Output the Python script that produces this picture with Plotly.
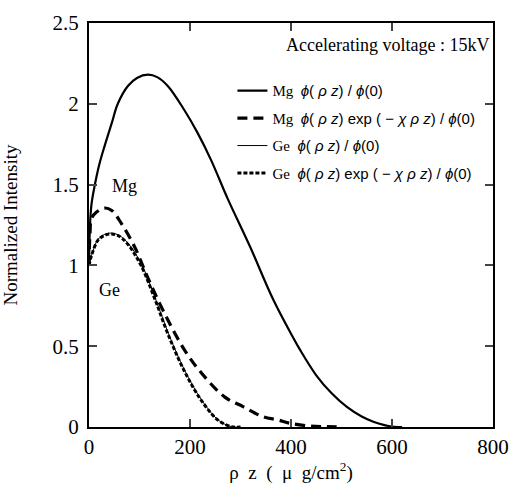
import plotly.graph_objects as go

# Mg phi(rho z)/phi(0)
mg_x = [0, 2, 5, 11, 20, 31, 45, 57, 77, 95, 117, 135, 156, 189, 215, 242, 275, 319, 365, 403, 418, 450, 480, 510, 540, 563, 585, 600, 620]
mg_y = [1.0, 1.25, 1.38, 1.49, 1.62, 1.74, 1.88, 2.0, 2.11, 2.16, 2.18, 2.165, 2.11, 1.96, 1.82, 1.65, 1.41, 1.115, 0.787, 0.56, 0.477, 0.32, 0.21, 0.126, 0.065, 0.033, 0.012, 0.003, 0.0]

# Mg phi(rho z) exp(-chi rho z)/phi(0)
mga_x = [0, 2, 5, 15, 31, 45, 64, 90, 117, 150, 189, 223, 269, 305, 344, 375, 398, 437, 470, 500]
mga_y = [1.0, 1.2, 1.29, 1.33, 1.355, 1.34, 1.26, 1.117, 0.92, 0.70, 0.477, 0.333, 0.185, 0.126, 0.064, 0.043, 0.023, 0.006, 0.002, 0.0]

# Ge phi(rho z)/phi(0)
ge_x = [0, 3, 7.5, 17.5, 30, 44, 60, 77, 103, 130, 157, 189, 223, 256, 282, 300]
ge_y = [1.0, 1.04, 1.086, 1.16, 1.19, 1.2, 1.185, 1.138, 1.014, 0.807, 0.58, 0.353, 0.167, 0.043, 0.002, 0.0]

# Ge phi(rho z) exp(-chi rho z)/phi(0)
gea_x = [0, 3, 7.5, 17.5, 30, 44, 60, 77, 103, 130, 157, 189, 223, 256, 282, 300]
gea_y = [1.0, 1.04, 1.085, 1.155, 1.185, 1.195, 1.18, 1.13, 1.0, 0.795, 0.57, 0.345, 0.162, 0.041, 0.002, 0.0]

x_ticks = [0, 200, 400, 600, 800]
y_ticks = [0, 0.5, 1, 1.5, 2, 2.5]
y_tick_labels = ["0", "0.5", "1", "1.5", "2", "2.5"]

SERIF = "Liberation Serif"
SANS = "Liberation Sans"

def formula(absorb):
    f = f'<span style="font-family:{SANS}"><i>ϕ</i>( <i>ρ z</i>)'
    if absorb:
        f += ' exp ( − <i>χ ρ z</i>)'
    f += ' / <i>ϕ</i>(0)</span>'
    return f

fig = go.Figure()
fig.add_trace(go.Scatter(x=mg_x, y=mg_y, mode="lines", line=dict(color="black", width=2.2, shape="spline"),
                         name="Mg  " + formula(False), legendgroup="a"))
fig.add_trace(go.Scatter(x=mga_x, y=mga_y, mode="lines", line=dict(color="black", width=3.2, dash="10px,6px", shape="spline"),
                         name="Mg  " + formula(True), legendgroup="b"))
fig.add_trace(go.Scatter(x=ge_x, y=ge_y, mode="lines", line=dict(color="black", width=1, shape="spline"),
                         name="Ge  " + formula(False), legendgroup="c"))
fig.add_trace(go.Scatter(x=gea_x, y=gea_y, mode="lines", line=dict(color="black", width=3, dash="4px,2px", shape="spline"),
                         name="Ge  " + formula(True), legendgroup="d"))

tickfont = dict(family=SERIF, size=21, color="black")
titlefont = dict(family=SERIF, size=19, color="black")

fig.update_layout(
    width=510, height=489,
    margin=dict(l=89, r=17, t=23, b=62),
    paper_bgcolor="white", plot_bgcolor="white",
    font=dict(family=SERIF, color="black", size=18),
    showlegend=True,
    legend=dict(x=0.355, y=0.873, xanchor="left", yanchor="top", bgcolor="rgba(0,0,0,0)",
                font=dict(family=SERIF, size=15), tracegroupgap=5, itemwidth=30),
    xaxis=dict(range=[0, 800], tickvals=x_ticks, ticks="inside", ticklen=8, tickwidth=1.5,
               showline=True, linewidth=2, linecolor="black", mirror="allticks", showgrid=False, zeroline=False,
               automargin=False, tickfont=tickfont,
               title=dict(text="ρ  z  (  μ  g/cm<sup>2</sup>)", font=titlefont, standoff=5)),
    yaxis=dict(range=[0, 2.5], tickvals=y_ticks, ticktext=y_tick_labels, ticks="inside", ticklen=8, tickwidth=1.5,
               showline=True, linewidth=2, linecolor="black", mirror="allticks", showgrid=False, zeroline=False,
               automargin=False, tickfont=tickfont, ticklabelstandoff=4,
               title=dict(text="Normalized Intensity", font=titlefont, standoff=30)),
    annotations=[
        dict(x=0.74, y=0.945, xref="paper", yref="paper", text="Accelerating voltage : 15kV", showarrow=False,
             font=dict(family=SERIF, size=18), xanchor="center", yanchor="middle"),
        dict(x=70, y=1.49, xref="x", yref="y", text="Mg", showarrow=False, font=dict(family=SERIF, size=18)),
        dict(x=40, y=0.85, xref="x", yref="y", text="Ge", showarrow=False, font=dict(family=SERIF, size=18)),
    ],
)

fig.write_html(
    "out.html",
    config={"displayModeBar": False},
    post_script="document.body.style.margin='0';document.body.style.overflow='hidden';",
)
